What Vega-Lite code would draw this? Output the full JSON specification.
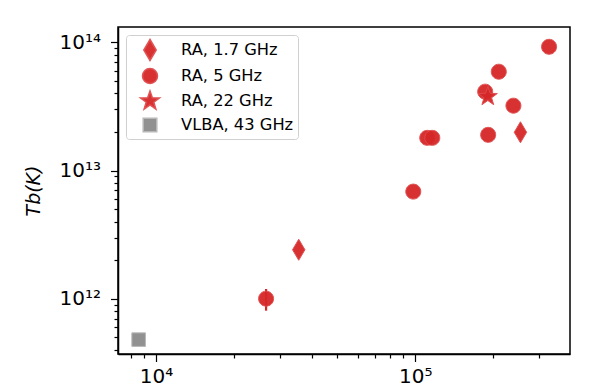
{
  "$schema": "https://vega.github.io/schema/vega-lite/v6.json",
  "width": 452,
  "height": 327,
  "autosize": {"type": "none"},
  "padding": {"left": 118, "top": 27, "right": 28, "bottom": 37},
  "config": {
    "font": "DejaVu Sans",
    "view": {"stroke": "black", "strokeWidth": 1.5},
    "axis": {"grid": false, "domainColor": "black", "domainWidth": 1.5, "tickColor": "black", "tickWidth": 1.2, "labelColor": "black", "labelFontSize": 20, "titleColor": "black"},
    "legend": {
      "orient": "top-left",
      "offset": 8,
      "padding": 4,
      "symbolOffset": 9,
      "labelOffset": 20,
      "rowPadding": 1,
      "symbolSize": 400,
      "labelFontSize": 16.3,
      "labelColor": "black",
      "strokeColor": "#d0d0d0",
      "fillColor": "white",
      "cornerRadius": 3
    }
  },
  "data": {
    "values": [
      {"series": "RA, 1.7 GHz", "freq": 35530, "tb": 2.41e12},
      {"series": "RA, 1.7 GHz", "freq": 254400, "tb": 1.99e13},
      {"series": "RA, 5 GHz", "freq": 26590, "tb": 1.0e12, "lo": 8.06e11, "hi": 1.19e12},
      {"series": "RA, 5 GHz", "freq": 98240, "tb": 6.85e12},
      {"series": "RA, 5 GHz", "freq": 111200, "tb": 1.8e13},
      {"series": "RA, 5 GHz", "freq": 116300, "tb": 1.8e13},
      {"series": "RA, 5 GHz", "freq": 186000, "tb": 4.13e13},
      {"series": "RA, 5 GHz", "freq": 191000, "tb": 1.9e13},
      {"series": "RA, 5 GHz", "freq": 209900, "tb": 5.91e13},
      {"series": "RA, 5 GHz", "freq": 239000, "tb": 3.21e13},
      {"series": "RA, 5 GHz", "freq": 328000, "tb": 9.25e13},
      {"series": "RA, 22 GHz", "freq": 190400, "tb": 3.78e13},
      {"series": "VLBA, 43 GHz", "freq": 8577, "tb": 4.79e11}
    ]
  },
  "layer": [
    {
      "transform": [{"filter": "isValid(datum.lo)"}],
      "mark": {"type": "rule", "color": "#d62728", "strokeWidth": 2.2},
      "encoding": {
        "x": {"field": "freq", "type": "quantitative"},
        "y": {"field": "lo", "type": "quantitative"},
        "y2": {"field": "hi"}
      }
    },
    {
      "mark": {"type": "point", "filled": true, "size": 400, "strokeWidth": 1, "opacity": 0.95},
      "encoding": {
        "x": {
          "field": "freq", "type": "quantitative",
          "scale": {"type": "log", "domain": [7140, 395000], "nice": false},
          "axis": {
            "title": null,
            "values": [8000, 9000, 10000, 20000, 30000, 40000, 50000, 60000, 70000, 80000, 90000, 100000, 200000, 300000],
            "labelExpr": "datum.value == 10000 ? '10⁴' : datum.value == 100000 ? '10⁵' : ''",
            "tickSize": {"condition": {"test": "datum.value == 10000 || datum.value == 100000", "value": 7.5}, "value": 4},
            "labelPadding": 5,
            "labelFlush": false,
            "labelOverlap": false
          }
        },
        "y": {
          "field": "tb", "type": "quantitative",
          "scale": {"type": "log", "domain": [3.7e11, 1.32e14], "nice": false},
          "axis": {
            "title": "Tb(K)",
            "titleFontStyle": "italic",
            "titleFontWeight": "normal",
            "titleFontSize": 19,
            "titlePadding": 16,
            "values": [4e11, 5e11, 6e11, 7e11, 8e11, 9e11, 1e12, 2e12, 3e12, 4e12, 5e12, 6e12, 7e12, 8e12, 9e12, 1e13, 2e13, 3e13, 4e13, 5e13, 6e13, 7e13, 8e13, 9e13, 1e14],
            "labelExpr": "datum.value == 1e12 ? '10¹²' : datum.value == 1e13 ? '10¹³' : datum.value == 1e14 ? '10¹⁴' : ''",
            "tickSize": {"condition": {"test": "datum.value == 1e12 || datum.value == 1e13 || datum.value == 1e14", "value": 7.5}, "value": 4},
            "labelPadding": 10,
            "labelFlush": false,
            "labelOverlap": false
          }
        },
        "shape": {
          "field": "series", "type": "nominal",
          "scale": {
            "domain": ["RA, 1.7 GHz", "RA, 5 GHz", "RA, 22 GHz", "VLBA, 43 GHz"],
            "range": [
              "M0,-1.05L0.62,0L0,1.05L-0.62,0Z",
              "M-0.75,0A0.75,0.75 0 1,0 0.75,0A0.75,0.75 0 1,0 -0.75,0Z",
              "M0,-1L0.235,-0.324L0.951,-0.309L0.38,0.124L0.588,0.809L0,0.4L-0.588,0.809L-0.38,0.124L-0.951,-0.309L-0.235,-0.324Z",
              "M-0.68,-0.68H0.68V0.68H-0.68Z"
            ]
          },
          "legend": {"title": null}
        },
        "color": {
          "field": "series", "type": "nominal",
          "scale": {
            "domain": ["RA, 1.7 GHz", "RA, 5 GHz", "RA, 22 GHz", "VLBA, 43 GHz"],
            "range": ["#d62728", "#d62728", "#d62728", "#8c8c8c"]
          },
          "legend": {"title": null}
        },
        "stroke": {
          "field": "series", "type": "nominal",
          "scale": {
            "domain": ["RA, 1.7 GHz", "RA, 5 GHz", "RA, 22 GHz", "VLBA, 43 GHz"],
            "range": ["#e04a4b", "#e04a4b", "#e04a4b", "#b5b5b5"]
          },
          "legend": {"title": null}
        }
      }
    }
  ]
}
